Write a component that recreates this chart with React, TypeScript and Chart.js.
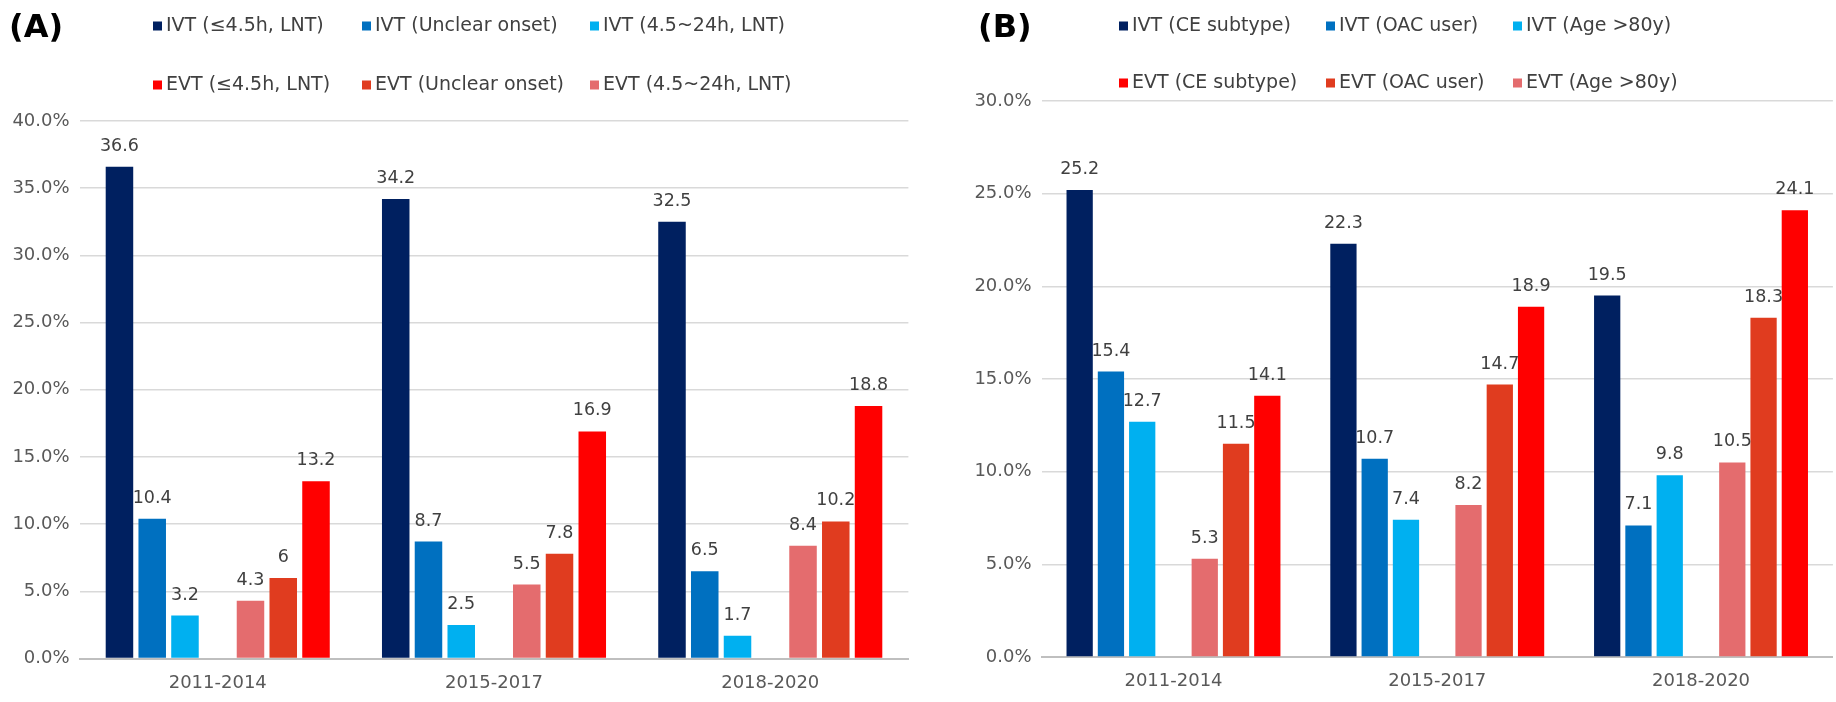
import React, { useEffect, useRef } from 'react';
import { Chart, registerables } from 'chart.js';

Chart.register(...registerables);

const FONT = "'DejaVu Sans', sans-serif";

// ---------- shared ----------
const categories = ['2011-2014', '2015-2017', '2018-2020'];
const seriesColors = ['#002060', '#0070C0', '#00B0F0', '#FF0000', '#E03C1F', '#E46C6E'];

// ---------- panel A ----------
const aSeriesLabels = [
  'IVT (≤4.5h, LNT)',
  'IVT (Unclear onset)',
  'IVT (4.5~24h, LNT)',
  'EVT (≤4.5h, LNT)',
  'EVT (Unclear onset)',
  'EVT (4.5~24h, LNT)',
];
const aIvtEarly = [36.6, 34.2, 32.5];
const aIvtUnclear = [10.4, 8.7, 6.5];
const aIvtLate = [3.2, 2.5, 1.7];
const aEvtEarly = [13.2, 16.9, 18.8];
const aEvtUnclear = [6, 7.8, 10.2];
const aEvtLate = [4.3, 5.5, 8.4];
const aAxisMax = 40;

// ---------- panel B ----------
const bSeriesLabels = [
  'IVT (CE subtype)',
  'IVT (OAC user)',
  'IVT (Age >80y)',
  'EVT (CE subtype)',
  'EVT (OAC user)',
  'EVT (Age >80y)',
];
const bIvtCE = [25.2, 22.3, 19.5];
const bIvtOAC = [15.4, 10.7, 7.1];
const bIvtAge = [12.7, 7.4, 9.8];
const bEvtCE = [14.1, 18.9, 24.1];
const bEvtOAC = [11.5, 14.7, 18.3];
const bEvtAge = [5.3, 8.2, 10.5];
const bAxisMax = 30;

const tickStep = 5;

type PanelCfg = {
  left: number;
  panelLabel: string;
  panelLabelX: number;
  seriesLabels: string[];
  series: number[][]; // order: ivt1, ivt2, ivt3, evt1, evt2, evt3
  yMax: number;
  yWidth: number;
  padRight: number;
  padTop: number;
  xHeight: number;
  legendCols: number[];
  legendRows: number[];
};

const decorPlugin = {
  id: 'decor',
  afterDatasetsDraw(chart: any, _args: any, o: any) {
    const ctx = chart.ctx;
    ctx.save();
    ctx.font = `${o.valueSize}px ${FONT}`;
    ctx.fillStyle = '#404040';
    ctx.textAlign = 'center';
    ctx.textBaseline = 'alphabetic';
    chart.data.datasets.forEach((ds: any, i: number) => {
      const meta = chart.getDatasetMeta(i);
      meta.data.forEach((el: any, j: number) => {
        const v = ds.data[j];
        if (v == null) return;
        ctx.fillText(String(v), el.x, el.y - o.valueGap);
      });
    });
    ctx.restore();
  },
  afterDraw(chart: any, _args: any, o: any) {
    const ctx = chart.ctx;
    ctx.save();
    // panel letter
    ctx.font = `bold ${o.panelSize}px ${FONT}`;
    ctx.fillStyle = '#000000';
    ctx.textAlign = 'left';
    ctx.textBaseline = 'middle';
    ctx.fillText(o.panelLabel, o.panelLabelX, o.panelLabelY);
    // legend
    ctx.font = `${o.legendSize}px ${FONT}`;
    o.items.forEach((it: any) => {
      const x = o.cols[it.col];
      const y = o.rows[it.row];
      ctx.fillStyle = it.color;
      ctx.fillRect(x, y - 4.5, 9, 9);
      ctx.fillStyle = '#404040';
      ctx.fillText(it.text, x + 13, y);
    });
    ctx.restore();
  },
};

function Panel({ cfg }: { cfg: PanelCfg }) {
  const ref = useRef<HTMLCanvasElement | null>(null);
  useEffect(() => {
    if (!ref.current) return;
    const [i1, i2, i3, e1, e2, e3] = cfg.series;
    const mk = (label: string, data: (number | null)[], color: string) => ({
      label,
      data,
      backgroundColor: color,
      borderWidth: 0,
      barPercentage: 0.84,
      categoryPercentage: 0.83,
    });
    const datasets = [
      mk(cfg.seriesLabels[0], i1, seriesColors[0]),
      mk(cfg.seriesLabels[1], i2, seriesColors[1]),
      mk(cfg.seriesLabels[2], i3, seriesColors[2]),
      mk('', categories.map(() => null), 'rgba(0,0,0,0)'),
      mk(cfg.seriesLabels[5], e3, seriesColors[5]),
      mk(cfg.seriesLabels[4], e2, seriesColors[4]),
      mk(cfg.seriesLabels[3], e1, seriesColors[3]),
    ];
    const items = cfg.seriesLabels.map((text, k) => ({
      text,
      color: seriesColors[k],
      col: k % 3,
      row: Math.floor(k / 3),
    }));
    const chart = new Chart(ref.current, {
      type: 'bar',
      data: { labels: categories, datasets },
      plugins: [decorPlugin as any],
      options: {
        responsive: false,
        animation: false,
        devicePixelRatio: 1,
        layout: { padding: { left: 0, right: cfg.padRight, top: cfg.padTop, bottom: 0 } },
        plugins: {
          legend: { display: false },
          tooltip: { enabled: false },
          decor: {
            valueSize: 17.5,
            valueGap: 16,
            panelSize: 32,
            panelLabel: cfg.panelLabel,
            panelLabelX: cfg.panelLabelX,
            panelLabelY: 29,
            legendSize: 19,
            items,
            cols: cfg.legendCols,
            rows: cfg.legendRows,
          },
        } as any,
        scales: {
          x: {
            grid: { display: false, drawTicks: false },
            border: { display: true, color: '#bfbfbf', width: 2 },
            ticks: { color: '#595959', font: { family: FONT, size: 18 }, padding: 14 },
            afterFit: (s: any) => {
              s.height = cfg.xHeight;
            },
          },
          y: {
            min: 0,
            max: cfg.yMax,
            grid: { color: '#d9d9d9', lineWidth: 1.5, drawTicks: false },
            border: { display: false },
            ticks: {
              stepSize: tickStep,
              color: '#595959',
              font: { family: FONT, size: 18 },
              padding: 10,
              callback: (v: any) => `${Number(v).toFixed(1)}%`,
            },
            afterFit: (s: any) => {
              s.width = cfg.yWidth;
            },
          },
        },
      } as any,
    });
    return () => chart.destroy();
  }, []);
  return (
    <canvas
      ref={ref}
      width={918}
      height={702}
      style={{ position: 'absolute', left: cfg.left, top: 0, width: 918, height: 702 }}
    />
  );
}

const panelA: PanelCfg = {
  left: 0,
  panelLabel: '(A)',
  panelLabelX: 9,
  seriesLabels: aSeriesLabels,
  series: [aIvtEarly, aIvtUnclear, aIvtLate, aEvtEarly, aEvtUnclear, aEvtLate],
  yMax: aAxisMax,
  yWidth: 79.6,
  padRight: 9.6,
  padTop: 121,
  xHeight: 702 - 658.5,
  legendCols: [153, 362, 590],
  legendRows: [26, 85],
};

const panelB: PanelCfg = {
  left: 918,
  panelLabel: '(B)',
  panelLabelX: 60,
  seriesLabels: bSeriesLabels,
  series: [bIvtCE, bIvtOAC, bIvtAge, bEvtCE, bEvtOAC, bEvtAge],
  yMax: bAxisMax,
  yWidth: 123.6,
  padRight: 3.1,
  padTop: 101,
  xHeight: 702 - 657,
  legendCols: [201, 408, 595],
  legendRows: [26, 83],
};

export default function App() {
  return (
    <div style={{ position: 'absolute', left: 0, top: 0, width: 1836, height: 702, background: '#ffffff' }}>
      <Panel cfg={panelA} />
      <Panel cfg={panelB} />
    </div>
  );
}
